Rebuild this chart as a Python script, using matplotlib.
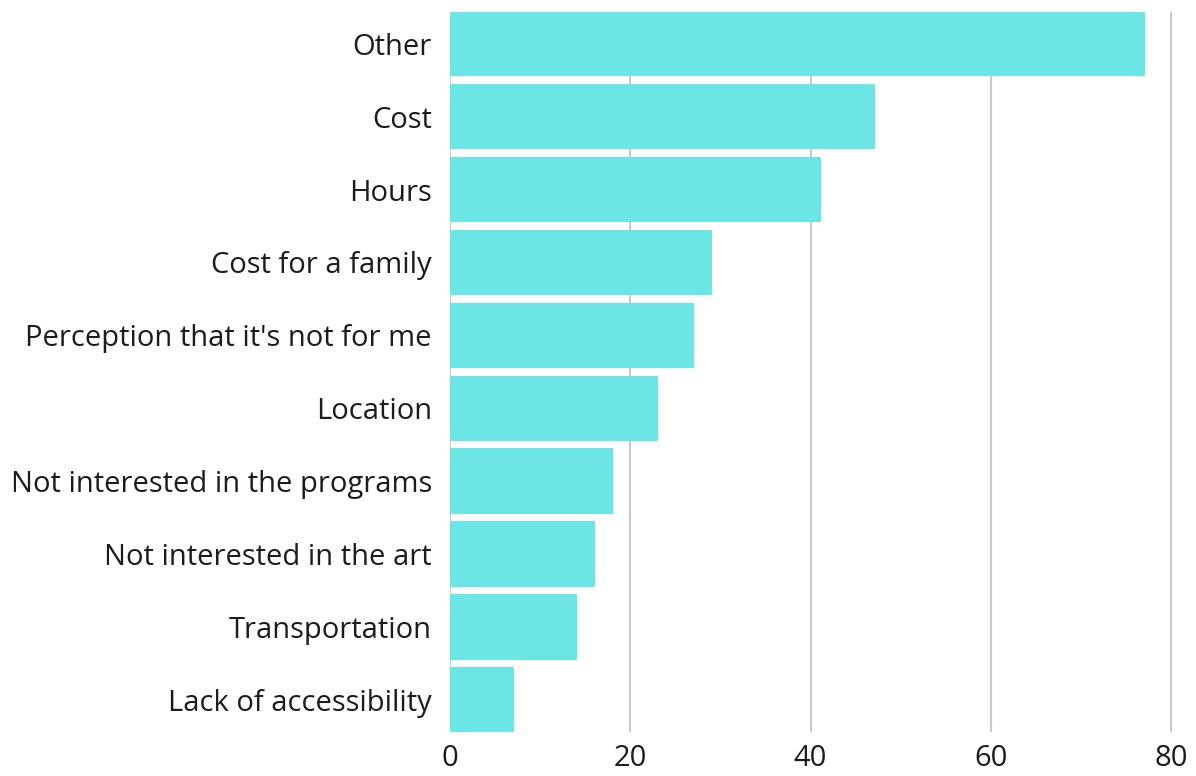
import matplotlib
matplotlib.use("Agg")
import matplotlib.pyplot as plt

plt.rcParams.update({"font.family": ["Open Sans", "DejaVu Sans"]})

categories = ["Other", "Cost", "Hours", "Cost for a family",
              "Perception that it's not for me", "Location",
              "Not interested in the programs", "Not interested in the art",
              "Transportation", "Lack of accessibility"]
counts = [77, 47, 41, 29, 27, 23, 18, 16, 14, 7]
xticks = [0, 20, 40, 60, 80]

BAR = "#6ce5e5"
TEXT = "#1c1c1c"

fig = plt.figure(figsize=(11.96, 7.76), dpi=100)
ax = fig.add_axes([0.3763, 0.0573, 0.6103, 0.9272])

ypos = list(range(len(categories)))
ax.barh(ypos, counts, height=0.87, color=BAR, edgecolor=BAR,
        linewidth=1.5, joinstyle="round", zorder=2)

ax.set_ylim(len(categories) - 0.565, -0.435)
ax.set_xlim(0, 81)
ax.set_yticks(ypos)
ax.set_yticklabels(categories, fontsize=21, color=TEXT)
ax.set_xticks(xticks)
ax.set_xticklabels([str(t) for t in xticks], fontsize=21, color=TEXT)
ax.tick_params(length=0)
ax.tick_params(axis="y", pad=13)
ax.tick_params(axis="x", pad=9)

ax.grid(axis="x", color="#c8c8c8", linewidth=1.5, zorder=1)
ax.grid(axis="y", visible=False)
for s in ax.spines.values():
    s.set_visible(False)

fig.savefig("out.png", dpi=100)
